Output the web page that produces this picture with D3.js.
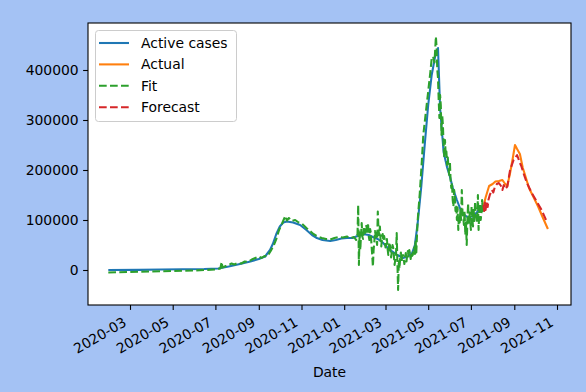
<!DOCTYPE html>
<html>
<head>
<meta charset="utf-8">
<script src="https://cdn.jsdelivr.net/npm/d3@7"></script>
<style>
  body { margin: 0; background: #a4c2f4; }
  svg { display: block; font-family: "DejaVu Sans", sans-serif; }
</style>
</head>
<body>
<script>
// active cases (blue)
var activeCases = [
  ["2020-01-30", 0], ["2020-03-15", 200], ["2020-04-15", 1000], ["2020-05-15", 1500],
  ["2020-06-15", 2000], ["2020-07-05", 3000], ["2020-07-20", 7000], ["2020-08-05", 12000],
  ["2020-08-20", 17000], ["2020-09-01", 22000], ["2020-09-10", 27000], ["2020-09-17", 40000],
  ["2020-09-21", 52000], ["2020-09-26", 72000], ["2020-10-01", 87000], ["2020-10-06", 95000],
  ["2020-10-11", 97000], ["2020-10-20", 95000], ["2020-10-30", 90000], ["2020-11-08", 80000],
  ["2020-11-16", 70000], ["2020-11-23", 64000], ["2020-12-01", 60000], ["2020-12-12", 58000],
  ["2020-12-20", 60000], ["2020-12-28", 63000], ["2021-01-05", 64000], ["2021-01-13", 64000],
  ["2021-01-20", 68000], ["2021-01-28", 72000], ["2021-02-05", 70000], ["2021-02-11", 66000],
  ["2021-02-18", 62000], ["2021-02-25", 55000], ["2021-03-03", 46000], ["2021-03-10", 38000],
  ["2021-03-18", 30000], ["2021-03-26", 24000], ["2021-04-02", 27000], ["2021-04-08", 34000],
  ["2021-04-12", 50000], ["2021-04-16", 94000], ["2021-04-21", 165000], ["2021-04-26", 250000],
  ["2021-05-01", 330000], ["2021-05-06", 390000], ["2021-05-11", 428000], ["2021-05-15", 444000],
  ["2021-05-18", 324000], ["2021-05-23", 236000], ["2021-05-28", 205000], ["2021-06-01", 187000],
  ["2021-06-05", 165000], ["2021-06-11", 140000], ["2021-06-18", 114000], ["2021-06-26", 106000],
  ["2021-07-04", 107000], ["2021-07-10", 116000], ["2021-07-15", 125000], ["2021-07-19", 130000]
];

// actual values after the cut (orange)
var actual = [
  ["2021-07-19", 128000], ["2021-07-22", 145000], ["2021-07-27", 168000], ["2021-08-01", 172000],
  ["2021-08-05", 177000], ["2021-08-10", 178000], ["2021-08-15", 180000], ["2021-08-19", 172000],
  ["2021-08-22", 168000], ["2021-08-26", 194000], ["2021-08-30", 225000], ["2021-09-02", 250000],
  ["2021-09-05", 242000], ["2021-09-09", 232000], ["2021-09-13", 205000], ["2021-09-17", 187000],
  ["2021-09-22", 164000], ["2021-09-28", 147000], ["2021-10-05", 127000], ["2021-10-12", 104000],
  ["2021-10-19", 82000]
];

// model fit (green)
var fit = [
  ["2020-01-30", -5000], ["2020-03-01", -4000], ["2020-04-01", -3000], ["2020-05-01", -2000],
  ["2020-06-01", -1000], ["2020-07-01", 1000], ["2020-07-08", 3000], ["2020-07-10", 16000],
  ["2020-07-11", 5000], ["2020-07-16", 8000], ["2020-07-20", 10000], ["2020-07-24", 13000],
  ["2020-07-28", 11000], ["2020-08-02", 14000], ["2020-08-07", 13000], ["2020-08-12", 17000],
  ["2020-08-17", 16000], ["2020-08-22", 21000], ["2020-08-27", 24000], ["2020-09-01", 27000],
  ["2020-09-05", 24000], ["2020-09-09", 28000], ["2020-09-13", 27000], ["2020-09-18", 38000],
  ["2020-09-22", 48000], ["2020-09-26", 62000], ["2020-09-30", 80000], ["2020-10-04", 92000],
  ["2020-10-07", 102000], ["2020-10-09", 108000], ["2020-10-11", 99000], ["2020-10-14", 104000],
  ["2020-10-18", 98000], ["2020-10-23", 100000], ["2020-10-28", 95000], ["2020-11-02", 92000],
  ["2020-11-08", 84000], ["2020-11-13", 78000], ["2020-11-18", 72000], ["2020-11-24", 67000],
  ["2020-11-30", 64000], ["2020-12-06", 62000], ["2020-12-12", 61000], ["2020-12-18", 64000],
  ["2020-12-24", 66000], ["2020-12-30", 65000], ["2021-01-05", 67000], ["2021-01-10", 64000],
  ["2021-01-15", 66000], ["2021-01-18", 60000], ["2021-01-19", 68000], ["2021-01-20", 72000],
  ["2021-01-21", 130000], ["2021-01-22", 10000], ["2021-01-23", 75000], ["2021-01-24", 40000],
  ["2021-01-25", 70000], ["2021-01-26", 94000], ["2021-01-27", 66000], ["2021-01-28", 62000],
  ["2021-01-29", 85000], ["2021-01-30", 80000], ["2021-01-31", 74000], ["2021-02-01", 90000],
  ["2021-02-02", 86000], ["2021-02-03", 72000], ["2021-02-04", 94000], ["2021-02-05", 68000],
  ["2021-02-06", 60000], ["2021-02-07", 82000], ["2021-02-08", 75000], ["2021-02-09", 50000],
  ["2021-02-10", 30000], ["2021-02-11", 7000], ["2021-02-12", 40000], ["2021-02-13", 55000],
  ["2021-02-14", 78000], ["2021-02-15", 70000], ["2021-02-16", 62000], ["2021-02-17", 50000],
  ["2021-02-18", 117000], ["2021-02-19", 80000], ["2021-02-20", 70000], ["2021-02-21", 87000],
  ["2021-02-22", 60000], ["2021-02-23", 47000], ["2021-02-24", 65000], ["2021-02-25", 72000],
  ["2021-02-26", 58000], ["2021-02-27", 68000], ["2021-02-28", 60000], ["2021-03-01", 45000],
  ["2021-03-02", 50000], ["2021-03-03", 62000], ["2021-03-04", 42000], ["2021-03-05", 30000],
  ["2021-03-06", 48000], ["2021-03-07", 55000], ["2021-03-08", 40000], ["2021-03-09", 25000],
  ["2021-03-10", 37000], ["2021-03-11", 50000], ["2021-03-12", 45000], ["2021-03-13", 28000],
  ["2021-03-14", 10000], ["2021-03-15", 22000], ["2021-03-16", 30000], ["2021-03-17", 74000],
  ["2021-03-18", 15000], ["2021-03-19", -40000], ["2021-03-20", 20000], ["2021-03-21", 3000],
  ["2021-03-22", 25000], ["2021-03-23", 35000], ["2021-03-24", 18000], ["2021-03-25", 28000],
  ["2021-03-26", 30000], ["2021-03-27", 22000], ["2021-03-28", 12000], ["2021-03-29", 26000],
  ["2021-03-30", 34000], ["2021-03-31", 17000], ["2021-04-01", 30000], ["2021-04-02", 38000],
  ["2021-04-03", 25000], ["2021-04-04", 40000], ["2021-04-05", 33000], ["2021-04-06", 22000],
  ["2021-04-07", 36000], ["2021-04-08", 28000], ["2021-04-09", 30000], ["2021-04-10", 42000],
  ["2021-04-11", 45000], ["2021-04-12", 32000], ["2021-04-13", 60000], ["2021-04-14", 35000],
  ["2021-04-15", 70000], ["2021-04-16", 100000], ["2021-04-19", 154000], ["2021-04-22", 220000],
  ["2021-04-24", 270000], ["2021-04-28", 320000], ["2021-05-01", 357000], ["2021-05-04", 395000],
  ["2021-05-06", 423000], ["2021-05-08", 427000], ["2021-05-10", 415000], ["2021-05-12", 467000],
  ["2021-05-13", 444000], ["2021-05-14", 400000], ["2021-05-15", 384000], ["2021-05-16", 340000],
  ["2021-05-17", 304000], ["2021-05-18", 350000], ["2021-05-19", 330000], ["2021-05-20", 270000],
  ["2021-05-21", 310000], ["2021-05-22", 290000], ["2021-05-23", 250000], ["2021-05-24", 224000],
  ["2021-05-25", 260000], ["2021-05-26", 230000], ["2021-05-27", 237000], ["2021-05-28", 210000],
  ["2021-05-29", 225000], ["2021-05-30", 204000], ["2021-05-31", 190000], ["2021-06-01", 217000],
  ["2021-06-02", 180000], ["2021-06-03", 164000], ["2021-06-04", 175000], ["2021-06-05", 140000],
  ["2021-06-06", 127000], ["2021-06-07", 160000], ["2021-06-08", 150000], ["2021-06-09", 118000],
  ["2021-06-10", 130000], ["2021-06-11", 100000], ["2021-06-12", 125000], ["2021-06-13", 80000],
  ["2021-06-14", 110000], ["2021-06-15", 95000], ["2021-06-16", 120000], ["2021-06-17", 100000],
  ["2021-06-18", 160000], ["2021-06-19", 115000], ["2021-06-20", 107000], ["2021-06-21", 90000],
  ["2021-06-22", 118000], ["2021-06-23", 70000], ["2021-06-24", 95000], ["2021-06-25", 50000],
  ["2021-06-26", 100000], ["2021-06-27", 133000], ["2021-06-28", 90000], ["2021-06-29", 115000],
  ["2021-06-30", 100000], ["2021-07-01", 80000], ["2021-07-02", 127000], ["2021-07-03", 105000],
  ["2021-07-04", 87000], ["2021-07-05", 120000], ["2021-07-06", 98000], ["2021-07-07", 137000],
  ["2021-07-08", 110000], ["2021-07-09", 107000], ["2021-07-10", 95000], ["2021-07-11", 150000],
  ["2021-07-12", 80000], ["2021-07-13", 120000], ["2021-07-14", 133000], ["2021-07-15", 100000],
  ["2021-07-16", 113000], ["2021-07-17", 140000], ["2021-07-18", 118000], ["2021-07-19", 127000]
];

// forecast (red)
var forecast = [
  ["2021-07-19", 130000], ["2021-07-20", 118000], ["2021-07-21", 135000], ["2021-07-22", 120000],
  ["2021-07-23", 132000], ["2021-07-24", 138000], ["2021-07-25", 126000], ["2021-07-26", 140000],
  ["2021-07-28", 150000], ["2021-07-31", 160000], ["2021-08-02", 155000], ["2021-08-04", 165000],
  ["2021-08-07", 172000], ["2021-08-10", 174000], ["2021-08-13", 168000], ["2021-08-15", 160000],
  ["2021-08-17", 170000], ["2021-08-19", 162000], ["2021-08-22", 167000], ["2021-08-26", 200000],
  ["2021-08-31", 220000], ["2021-09-05", 230000], ["2021-09-07", 222000], ["2021-09-09", 214000],
  ["2021-09-11", 208000], ["2021-09-14", 194000], ["2021-09-19", 174000], ["2021-09-26", 154000],
  ["2021-10-03", 137000], ["2021-10-10", 120000], ["2021-10-17", 98000]
];

var yTicks = [0, 100000, 200000, 300000, 400000];
var xTickLabels = ["2020-03", "2020-05", "2020-07", "2020-09", "2020-11", "2021-01",
  "2021-03", "2021-05", "2021-07", "2021-09", "2021-11"];

var w = 586, h = 392;
var plotL = 88, plotR = 571, plotT = 23, plotB = 305;
var fontSize = 13.9;

var parseDay = d3.timeParse("%Y-%m-%d");
var parseMonth = d3.timeParse("%Y-%m");

var svg = d3.select("body").append("svg")
  .attr("width", w)
  .attr("height", h);

svg.append("rect")
  .attr("width", w).attr("height", h)
  .attr("fill", "#a4c2f4");

// SCALES
var xScale = d3.scaleTime()
  .domain([parseDay("2020-01-01"), parseDay("2021-11-21")])
  .range([plotL, plotR]);

var yScale = d3.scaleLinear()
  .domain([-70000, 494000])
  .range([plotB, plotT]);

svg.append("rect")
  .attr("x", plotL).attr("y", plotT)
  .attr("width", plotR - plotL).attr("height", plotB - plotT)
  .attr("fill", "white");

// LINES
var line = d3.line()
  .x(d => xScale(parseDay(d[0])))
  .y(d => yScale(d[1]));

var series = [
  { name: "Active cases", data: activeCases, color: "#1f77b4", dash: null },
  { name: "Actual", data: actual, color: "#ff7f0e", dash: null },
  { name: "Fit", data: fit, color: "#2ca02c", dash: "7.7,3.3" },
  { name: "Forecast", data: forecast, color: "#d62728", dash: "7.7,3.3" }
];

svg.append("g").selectAll("path")
  .data(series)
  .enter()
  .append("path")
    .attr("d", d => line(d.data))
    .attr("fill", "none")
    .attr("stroke", d => d.color)
    .attr("stroke-width", 2.08)
    .attr("stroke-linejoin", "round")
    .attr("stroke-dasharray", d => d.dash);

// AXES
var yAxis = d3.axisLeft(yScale)
  .tickValues(yTicks)
  .tickFormat(d3.format("d"))
  .tickSize(4.9)
  .tickPadding(4.4);

svg.append("g")
  .attr("transform", `translate(${plotL},0)`)
  .call(yAxis)
  .call(g => g.select(".domain").remove())
  .call(g => g.selectAll("line").attr("stroke", "#000").attr("stroke-width", 1.1))
  .call(g => g.selectAll("text")
    .attr("font-size", fontSize)
    .attr("font-family", "DejaVu Sans")
    .attr("fill", "#000"));

var xAxis = d3.axisBottom(xScale)
  .tickValues(xTickLabels.map(parseMonth))
  .tickFormat(d3.timeFormat("%Y-%m"))
  .tickSize(4.9);

svg.append("g")
  .attr("transform", `translate(0,${plotB})`)
  .call(xAxis)
  .call(g => g.select(".domain").remove())
  .call(g => g.selectAll("line").attr("stroke", "#000").attr("stroke-width", 1.1))
  .call(g => g.selectAll("text")
    .attr("font-size", fontSize)
    .attr("font-family", "DejaVu Sans")
    .attr("fill", "#000")
    .attr("text-anchor", "end")
    .attr("x", -3)
    .attr("y", 20)
    .attr("dy", null)
    .attr("transform", "rotate(-30,-3,20)"));

// frame
svg.append("rect")
  .attr("x", plotL).attr("y", plotT)
  .attr("width", plotR - plotL).attr("height", plotB - plotT)
  .attr("fill", "none")
  .attr("stroke", "#000")
  .attr("stroke-width", 1.1);

svg.append("text")
  .attr("x", (plotL + plotR) / 2)
  .attr("y", 377)
  .attr("text-anchor", "middle")
  .attr("font-size", fontSize)
  .attr("fill", "#000")
  .text("Date");

// LEGEND
var legend = svg.append("g").attr("transform", "translate(95,30)");

legend.append("rect")
  .attr("x", 0.5).attr("y", 0.5)
  .attr("width", 141).attr("height", 91)
  .attr("rx", 3)
  .attr("fill", "white")
  .attr("fill-opacity", 0.8)
  .attr("stroke", "#cccccc")
  .attr("stroke-width", 1);

var rows = legend.selectAll(".row")
  .data(series)
  .enter()
  .append("g")
    .attr("class", "row")
    .attr("transform", (d, i) => `translate(0,${13 + i * 21.4})`);

rows.append("line")
  .attr("x1", 4).attr("x2", 34)
  .attr("stroke", d => d.color)
  .attr("stroke-width", 2.08)
  .attr("stroke-dasharray", d => d.dash);

rows.append("text")
  .attr("x", 46)
  .attr("y", 5)
  .attr("font-size", fontSize)
  .attr("fill", "#000")
  .text(d => d.name);
</script>
</body>
</html>
